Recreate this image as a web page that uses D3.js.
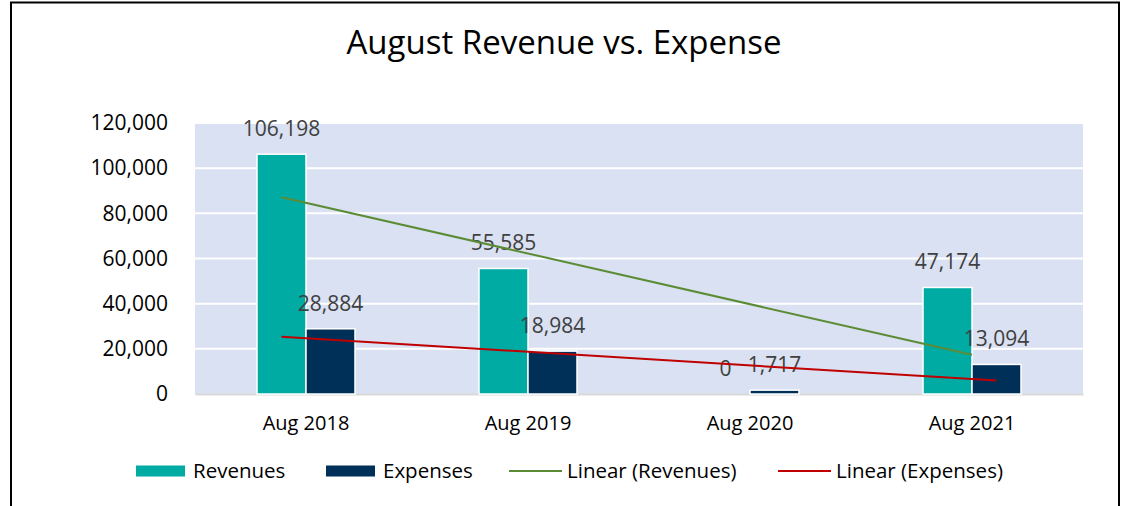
<!DOCTYPE html>
<html>
<head>
<meta charset="utf-8">
<script src="https://cdn.jsdelivr.net/npm/d3@7"></script>
<style>
  body { margin: 0; background: white; }
  text { font-family: "Open Sans", sans-serif; }
</style>
</head>
<body>
<script>
let categories = ["Aug 2018", "Aug 2019", "Aug 2020", "Aug 2021"]
let seriesNames = ["Revenues", "Expenses"]
let revenues = [106198, 55585, 0, 47174]
let expenses = [28884, 18984, 1717, 13094]
let yTicks = [0, 20000, 40000, 60000, 80000, 100000, 120000]

let w = 1125
let h = 506
let plot = {left: 195, right: 1083, top: 123, bottom: 394}
let font = "'Open Sans', sans-serif"

let colors = {Revenues: "#00ABA4", Expenses: "#003057"}
let trendColors = {Revenues: "#5B8C35", Expenses: "#C00000"}

let svg = d3.select("body").append("svg")
  .attr("width", w)
  .attr("height", h)

// outer chart frame
svg.append("rect")
  .attr("x", 11)
  .attr("y", 2.5)
  .attr("width", 1108)
  .attr("height", 520)
  .attr("fill", "white")
  .attr("stroke", "#000")
  .attr("stroke-width", 2)

svg.append("text")
  .text("August Revenue vs. Expense")
  .attr("x", 564)
  .attr("y", 54)
  .attr("text-anchor", "middle")
  .attr("font-size", 33)
  .attr("fill", "#000")

let x = d3.scaleBand()
  .domain(categories)
  .range([plot.left, plot.right])

let barW = 49
let x1 = d3.scaleOrdinal()
  .domain(seriesNames)
  .range([x.bandwidth()/2 - barW, x.bandwidth()/2])

let y = d3.scaleLinear()
  .domain([0, 120000])
  .range([plot.bottom, plot.top])

svg.append("rect")
  .attr("x", plot.left)
  .attr("y", plot.top)
  .attr("width", plot.right - plot.left)
  .attr("height", plot.bottom - plot.top)
  .attr("fill", "#D9E1F2")

// gridlines
svg.selectAll(".grid")
  .data(yTicks.slice(1))
  .enter()
  .append("line")
  .attr("class", "grid")
  .attr("x1", plot.left)
  .attr("x2", plot.right)
  .attr("y1", (d)=> y(d))
  .attr("y2", (d)=> y(d))
  .attr("stroke", "white")
  .attr("stroke-width", 2)

let yAxis = svg.append("g")
  .attr("transform", "translate(" + (plot.left - 27) + ",0)")
  .call(d3.axisLeft(y).tickValues(yTicks).tickFormat(d3.format(",")).tickSize(0).tickPadding(0))
yAxis.select(".domain").remove()
yAxis.selectAll("text")
  .attr("font-size", 21)
  .attr("fill", "#000")
  .attr("font-family", font)

let xAxis = svg.append("g")
  .attr("transform", "translate(0," + plot.bottom + ")")
  .call(d3.axisBottom(x).tickSize(0).tickPadding(22))
xAxis.select(".domain")
  .attr("stroke", "#D9D9D9")
  .attr("stroke-width", 2)
xAxis.selectAll("text")
  .attr("font-size", 20)
  .attr("fill", "#000")
  .attr("font-family", font)

let rows = []
categories.forEach((c, i)=>{
  rows.push({cat: c, series: "Revenues", value: revenues[i]})
  rows.push({cat: c, series: "Expenses", value: expenses[i]})
})

svg.selectAll(".bar")
  .data(rows.filter((d)=> d.value > 0))
  .enter()
  .append("rect")
  .attr("class", "bar")
  .attr("x", (d)=> x(d.cat) + x1(d.series))
  .attr("y", (d)=> y(d.value))
  .attr("width", barW)
  .attr("height", (d)=> y(0) - y(d.value))
  .attr("fill", (d)=> colors[d.series])
  .attr("stroke", "white")
  .attr("stroke-width", 1.5)

svg.selectAll(".label")
  .data(rows)
  .enter()
  .append("text")
  .attr("class", "label")
  .text((d)=> d3.format(",")(d.value))
  .attr("x", (d)=> x(d.cat) + x1(d.series) + barW/2)
  .attr("y", (d)=> y(d.value) - 18)
  .attr("text-anchor", "middle")
  .attr("font-size", 21)
  .attr("fill", "#404040")

// linear trendlines (least squares on x = 1..n)
let fit = (vals)=>{
  let n = vals.length
  let xs = vals.map((v, i)=> i + 1)
  let mx = d3.mean(xs)
  let my = d3.mean(vals)
  let num = d3.sum(xs, (xv, i)=> (xv - mx)*(vals[i] - my))
  let den = d3.sum(xs, (xv)=> (xv - mx)*(xv - mx))
  let slope = num/den
  return [my + slope*(1 - mx), my + slope*(n - mx)]
}

let last = categories[categories.length - 1]
let trendStart = x(categories[0]) + x1("Revenues") + barW/2
let trends = [
  {name: "Revenues", ends: fit(revenues), xEnd: x(last) + x.bandwidth()/2},
  {name: "Expenses", ends: fit(expenses), xEnd: x(last) + x1("Expenses") + barW/2}
]

svg.selectAll(".trend")
  .data(trends)
  .enter()
  .append("line")
  .attr("class", "trend")
  .attr("x1", trendStart)
  .attr("x2", (d)=> d.xEnd)
  .attr("y1", (d)=> y(d.ends[0]))
  .attr("y2", (d)=> y(d.ends[1]))
  .attr("stroke", (d)=> trendColors[d.name])
  .attr("stroke-width", 2)

// legend
let legendY = 471
let legendItems = [
  {label: "Revenues", type: "bar", color: colors.Revenues, x: 136},
  {label: "Expenses", type: "bar", color: colors.Expenses, x: 326},
  {label: "Linear (Revenues)", type: "line", color: trendColors.Revenues, x: 509},
  {label: "Linear (Expenses)", type: "line", color: trendColors.Expenses, x: 778}
]

let legend = svg.append("g").attr("id", "legend")
legendItems.forEach((item)=>{
  if(item.type === "bar"){
    legend.append("rect")
      .attr("x", item.x)
      .attr("y", legendY - 5.5)
      .attr("width", 49)
      .attr("height", 11)
      .attr("fill", item.color)
  } else {
    legend.append("line")
      .attr("x1", item.x)
      .attr("x2", item.x + 53)
      .attr("y1", legendY)
      .attr("y2", legendY)
      .attr("stroke", item.color)
      .attr("stroke-width", 2)
  }
  legend.append("text")
    .text(item.label)
    .attr("x", item.x + (item.type === "bar" ? 57 : 58))
    .attr("y", legendY + 7)
    .attr("font-size", 20.5)
    .attr("fill", "#000")
})
</script>
</body>
</html>
